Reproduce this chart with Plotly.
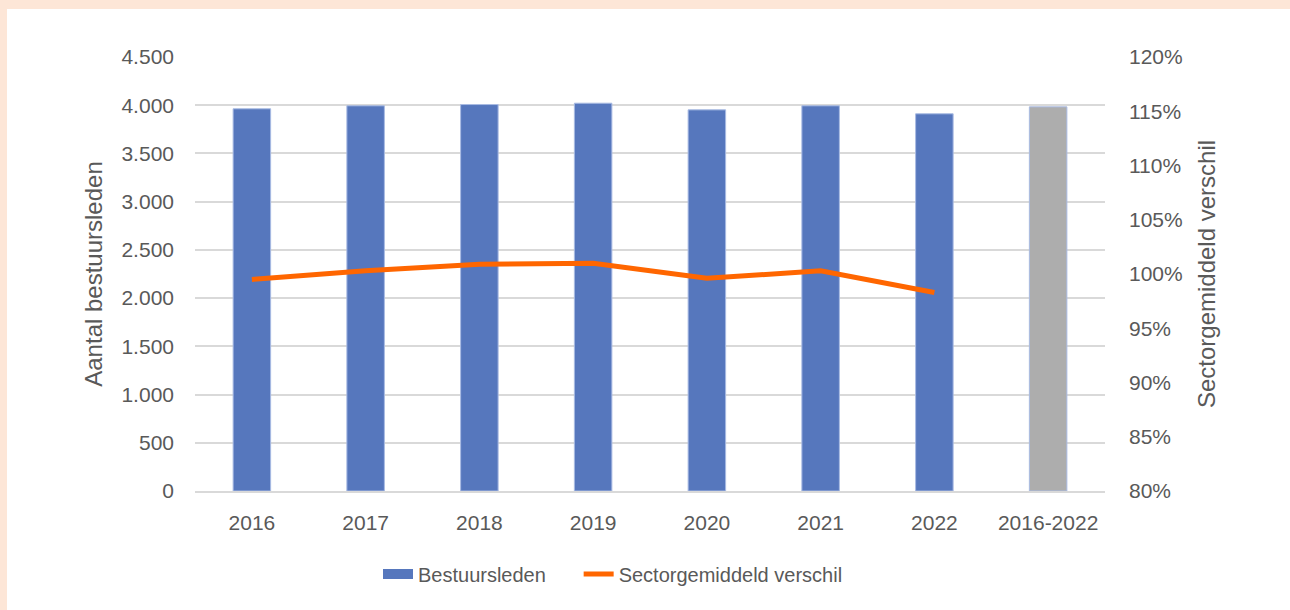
import plotly.graph_objects as go

categories = ["2016", "2017", "2018", "2019", "2020", "2021", "2022", "2016-2022"]
bestuursleden = [3963, 3994, 4007, 4021, 3952, 3994, 3911, 3983]
sector_pct = [99.5, 100.3, 100.9, 101.0, 99.6, 100.3, 98.3, None]
bar_colors = ["#5677BD"] * 7 + ["#ADADAD"]

W, H = 1290, 610
L, R, T, B = 195, 185, 57, 119
pw, ph = W - L - R, H - T - B

def px_x(p):
    return (p - L) / pw

def px_y(p):
    return (H - B - p) / ph

fig = go.Figure()
fig.add_trace(go.Bar(
    x=categories, y=bestuursleden, name="Bestuursleden",
    marker=dict(color=bar_colors, line=dict(color="#A9BBE3", width=1)),
    yaxis="y", showlegend=False,
))
# legend entry for the bars (wide rectangle like the original)
fig.add_trace(go.Scatter(
    x=[None], y=[None], name="Bestuursleden" + "\u00a0" * 5, mode="lines",
    line=dict(color="#5677BD", width=14), yaxis="y", showlegend=True,
))
fig.add_trace(go.Scatter(
    x=categories, y=sector_pct, name="Sectorgemiddeld verschil",
    mode="lines", line=dict(color="#FF6600", width=5),
    yaxis="y2",
))

tickfont = dict(family="Liberation Sans", size=21, color="#595959")
titlefont = dict(family="Liberation Sans", size=24, color="#595959")
fig.update_layout(
    width=W, height=H,
    margin=dict(l=L, r=R, t=T, b=B),
    paper_bgcolor="#FDE6D7",
    plot_bgcolor="white",
    separators=",.",
    bargap=0.67,
    showlegend=True,
    legend=dict(orientation="h", x=px_x(378), xanchor="left", y=px_y(574), yanchor="middle",
                font=dict(family="Liberation Sans", size=20, color="#595959"),
                bgcolor="rgba(0,0,0,0)", traceorder="normal"),
    xaxis=dict(tickfont=tickfont, showgrid=False, showline=True, linecolor="#D9D9D9",
               linewidth=2, ticks="", ticklabelstandoff=12),
    yaxis=dict(range=[0, 4500], dtick=500, tickformat=",d", tickfont=tickfont,
               showgrid=True, gridcolor="#D9D9D9", gridwidth=1.5, zeroline=False,
               title=dict(text="Aantal bestuursleden", font=titlefont, standoff=12),
               ticklabelstandoff=20),
    yaxis2=dict(range=[80, 120], dtick=5, ticksuffix="%", overlaying="y", side="right",
                tickfont=tickfont, showgrid=False, zeroline=False,
                title=dict(text="Sectorgemiddeld verschil", font=titlefont, standoff=16),
                ticklabelstandoff=23),
    shapes=[dict(type="rect", xref="paper", yref="paper",
                 x0=px_x(7), x1=px_x(W + 5), y0=px_y(H + 5), y1=px_y(9),
                 fillcolor="white", line=dict(width=0), layer="below")],
)

fig.write_html("out.html", config={"displayModeBar": False},
               post_script="document.body.style.margin='0';document.body.style.padding='0';")
